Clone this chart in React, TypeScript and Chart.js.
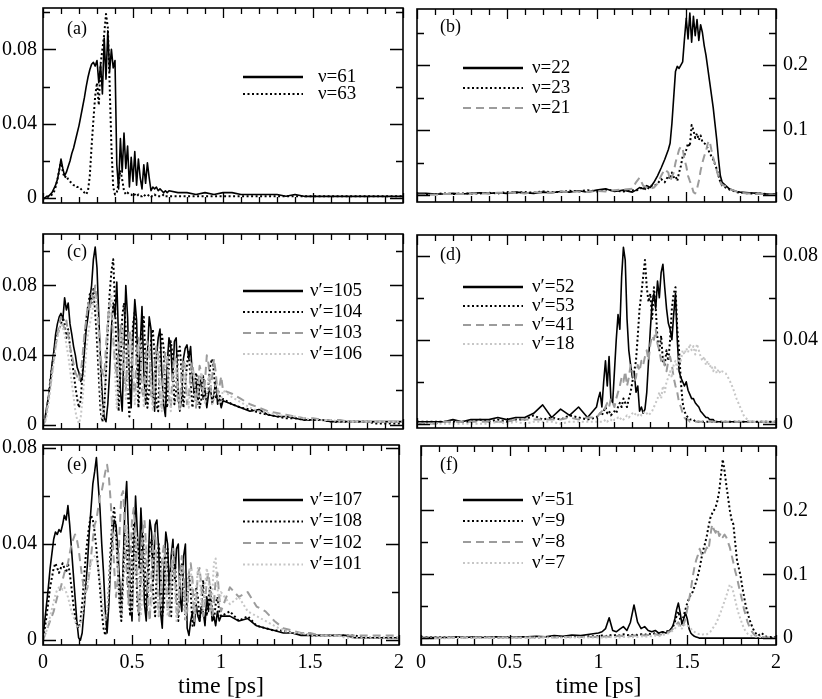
import { useEffect, useRef } from "react";
import { Chart, registerables } from "chart.js";

Chart.register(...registerables);

const SERIF = "'Liberation Serif', 'Times New Roman', serif";

// ---- axis ticks ----
const xTicks = [0, 0.5, 1, 1.5, 2];
const xMinor = [0.1, 0.2, 0.3, 0.4, 0.6, 0.7, 0.8, 0.9, 1.1, 1.2, 1.3, 1.4, 1.6, 1.7, 1.8, 1.9];
const yTicksSmall = [0, 0.04, 0.08];
const yMinorA = [0.02, 0.06, 0.1];
const yMinorD = [0.02, 0.06];
const yTicksBig = [0, 0.1, 0.2];
const yMinorBig = [0.05, 0.15, 0.25];

// ---- time grids [ps] ----
const tA = [
  0, 0.01, 0.02, 0.03, 0.04, 0.05, 0.06, 0.07, 0.08, 0.09,
  0.1, 0.11, 0.12, 0.13, 0.14, 0.15, 0.16, 0.17, 0.18, 0.19,
  0.2, 0.21, 0.22, 0.23, 0.24, 0.25, 0.26, 0.27, 0.28, 0.29,
  0.3, 0.31, 0.32, 0.33, 0.34, 0.35, 0.36, 0.37, 0.38, 0.39,
  0.4, 0.41, 0.42, 0.43, 0.44, 0.45, 0.46, 0.47, 0.48, 0.49,
  0.5, 0.51, 0.52, 0.53, 0.54, 0.55, 0.56, 0.57, 0.58, 0.59,
  0.6, 0.61, 0.62, 0.63, 0.64, 0.65, 0.66, 0.67, 0.68, 0.69,
  0.7, 0.75, 0.8, 0.85, 0.9, 0.95, 1, 1.05, 1.1, 1.15,
  1.2, 1.25, 1.3, 1.35, 1.4, 1.45, 1.5, 1.55, 1.6, 1.65,
  1.7, 1.75, 1.8, 1.85, 1.9, 1.95, 2,
];
const tB = [
  0, 0.05, 0.1, 0.15, 0.2, 0.25, 0.3, 0.35, 0.4, 0.45,
  0.5, 0.55, 0.6, 0.65, 0.7, 0.75, 0.8, 0.85, 0.9, 0.95,
  1, 1.05, 1.1, 1.15, 1.2,
  1.22, 1.24, 1.26, 1.28, 1.3, 1.32, 1.34, 1.36, 1.38, 1.4,
  1.41, 1.42, 1.43, 1.44, 1.45, 1.46, 1.47, 1.48, 1.49, 1.5,
  1.51, 1.52, 1.53, 1.54, 1.55, 1.56, 1.57, 1.58, 1.59, 1.6,
  1.61, 1.62, 1.63, 1.64, 1.65, 1.66, 1.67, 1.68, 1.69, 1.7,
  1.72, 1.74, 1.76, 1.78, 1.8, 1.85, 1.9, 1.95, 2,
];
const tCE = [
  0, 0.01, 0.02, 0.03, 0.04, 0.05, 0.06, 0.07, 0.08, 0.09,
  0.1, 0.11, 0.12, 0.13, 0.14, 0.15, 0.16, 0.17, 0.18, 0.19,
  0.2, 0.21, 0.22, 0.23, 0.24, 0.25, 0.26, 0.27, 0.28, 0.29,
  0.3, 0.31, 0.32, 0.33, 0.34, 0.35, 0.36, 0.37, 0.38, 0.39,
  0.4, 0.41, 0.42, 0.43, 0.44, 0.45, 0.46, 0.47, 0.48, 0.49,
  0.5, 0.51, 0.52, 0.53, 0.54, 0.55, 0.56, 0.57, 0.58, 0.59,
  0.6, 0.61, 0.62, 0.63, 0.64, 0.65, 0.66, 0.67, 0.68, 0.69,
  0.7, 0.71, 0.72, 0.73, 0.74, 0.75, 0.76, 0.77, 0.78, 0.79,
  0.8, 0.81, 0.82, 0.83, 0.84, 0.85, 0.86, 0.87, 0.88, 0.89,
  0.9, 0.91, 0.92, 0.93, 0.94, 0.95, 0.96, 0.97, 0.98, 0.99,
  1, 1.05, 1.1, 1.15, 1.2, 1.25, 1.3, 1.35, 1.4, 1.45,
  1.5, 1.55, 1.6, 1.65, 1.7, 1.75, 1.8, 1.85, 1.9, 1.95,
  2,
];
const tD = [
  0, 0.05, 0.1, 0.15, 0.2, 0.25, 0.3, 0.35, 0.4, 0.45,
  0.5, 0.55, 0.6, 0.65, 0.7, 0.75, 0.8, 0.85, 0.9, 0.95,
  1, 1.01, 1.02, 1.03, 1.04, 1.05, 1.06, 1.07, 1.08, 1.09,
  1.1, 1.11, 1.12, 1.13, 1.14, 1.15, 1.16, 1.17, 1.18, 1.19,
  1.2, 1.21, 1.22, 1.23, 1.24, 1.25, 1.26, 1.27, 1.28, 1.29,
  1.3, 1.31, 1.32, 1.33, 1.34, 1.35, 1.36, 1.37, 1.38, 1.39,
  1.4, 1.41, 1.42, 1.43, 1.44, 1.45, 1.46, 1.47, 1.48, 1.49,
  1.5, 1.51, 1.52, 1.53, 1.54, 1.55, 1.56, 1.57, 1.58, 1.59,
  1.6, 1.61, 1.62, 1.63, 1.64, 1.65, 1.66, 1.67, 1.68, 1.69,
  1.7, 1.72, 1.74, 1.76, 1.78, 1.8, 1.82, 1.84, 1.86, 1.88,
  1.9, 1.95, 2,
];
const tF = [
  0, 0.05, 0.1, 0.15, 0.2, 0.25, 0.3, 0.35, 0.4, 0.45,
  0.5, 0.55, 0.6, 0.65, 0.7, 0.75, 0.8, 0.85, 0.9, 0.95,
  1, 1.02, 1.04, 1.06, 1.08, 1.1, 1.12, 1.14, 1.16, 1.18,
  1.2, 1.22, 1.24, 1.26, 1.28, 1.3, 1.32, 1.34, 1.36, 1.38,
  1.4, 1.41, 1.42, 1.43, 1.44, 1.45, 1.46, 1.47, 1.48, 1.49,
  1.5, 1.51, 1.52, 1.53, 1.54, 1.55, 1.56, 1.57, 1.58, 1.59,
  1.6, 1.61, 1.62, 1.63, 1.64, 1.65, 1.66, 1.67, 1.68, 1.69,
  1.7, 1.71, 1.72, 1.73, 1.74, 1.75, 1.76, 1.77, 1.78, 1.79,
  1.8, 1.81, 1.82, 1.83, 1.84, 1.85, 1.86, 1.87, 1.88, 1.89,
  1.9, 1.91, 1.92, 1.93, 1.94, 1.95, 2,
];

// ---- populations, in units of 1e-3 ----
// (a)
const a61 = [
  0, 0, 1, 1, 2, 3, 5, 7, 10, 15,
  21, 16, 12, 14, 17, 20, 24, 27, 31, 35,
  39, 44, 49, 54, 60, 65, 69, 72, 73, 71,
  74, 62, 72, 56, 86, 64, 90, 68, 80, 70,
  74, 18, 5, 32, 14, 35, 16, 28, 6, 22,
  9, 25, 7, 21, 11, 5, 18, 8, 19, 11,
  4, 6, 5, 6, 4, 5, 4, 3, 4, 3,
  4, 3, 3, 2, 3, 2, 3, 3, 2, 2,
  2, 2, 2, 1, 2, 1, 1, 1, 1, 1,
  1, 1, 1, 1, 1, 1, 1,
];
const a63 = [
  0, 0, 0, 1, 1, 2, 3, 6, 10, 15,
  20, 14, 11, 12, 10, 9, 8, 7, 7, 6,
  6, 5, 4, 3, 2, 4, 12, 28, 42, 55,
  62, 50, 72, 80, 88, 99, 92, 62, 28, 6,
  2, 3, 8, 15, 10, 4, 2, 3, 2, 2,
  1, 2, 1, 2, 1, 1, 2, 1, 1, 2,
  1, 1, 2, 1, 1, 1, 1, 2, 1, 1,
  1, 1, 1, 1, 1, 1, 1, 1, 1, 1,
  1, 1, 1, 1, 1, 1, 1, 1, 1, 1,
  1, 1, 1, 1, 1, 1, 1,
];
// (b)
const b22 = [
  3, 3, 2, 2, 3, 2, 3, 4, 3, 4,
  3, 5, 4, 3, 5, 4, 6, 5, 7, 5,
  8, 10, 6, 8, 5,
  8, 12, 10, 15, 12, 20, 30, 42, 55, 70,
  80, 110, 150, 190, 198, 195, 200, 205, 240, 272,
  240, 280, 235, 275, 245, 270, 238, 262, 250, 230,
  215, 195, 175, 155, 135, 110, 85, 55, 30, 20,
  15, 10, 8, 6, 5, 4, 3, 2, 2,
];
const b23 = [
  2, 2, 2, 3, 2, 3, 3, 3, 4, 3,
  5, 4, 5, 4, 6, 5, 5, 7, 6, 8,
  6, 9, 7, 6, 8,
  7, 10, 12, 8, 15, 14, 18, 25, 20, 30,
  25, 35, 28, 30, 22, 35, 45, 60, 62, 70,
  80, 75, 108, 100, 88, 95, 85, 92, 82, 80,
  78, 72, 65, 60, 55, 48, 40, 30, 20, 15,
  12, 9, 7, 5, 4, 3, 3, 2, 2,
];
const b21 = [
  1, 1, 1, 2, 2, 2, 3, 3, 3, 4,
  4, 4, 3, 5, 4, 4, 6, 5, 6, 5,
  7, 6, 8, 9, 10,
  20, 27, 15, 12, 10, 12, 18, 30, 40, 35,
  22, 28, 35, 50, 60, 70, 75, 72, 55, 45,
  30, 22, 15, 5, 3, 10, 22, 38, 50, 60,
  68, 80, 84, 70, 58, 48, 38, 28, 20, 16,
  14, 10, 8, 6, 4, 3, 2, 2, 1,
];
// (c)
const c105 = [
  1, 3, 10, 16, 24, 35, 42, 52, 58, 62,
  64, 60, 73, 66, 70, 58, 52, 45, 40, 33,
  30, 25, 28, 42, 55, 62, 72, 80, 95, 102,
  90, 62, 35, 15, 4, 2, 12, 30, 55, 70,
  62, 82, 48, 20, 8, 45, 80, 62, 25, 10,
  50, 72, 60, 22, 45, 68, 30, 12, 40, 62,
  55, 18, 8, 38, 50, 55, 30, 12, 5, 35,
  50, 45, 25, 48, 50, 20, 8, 15, 38, 44,
  46, 38, 45, 28, 18, 25, 12, 22, 28, 15,
  20, 10, 18, 22, 12, 18, 25, 12, 15, 10,
  14, 12, 10, 8, 9, 6, 5, 5, 4, 3,
  3, 3, 2, 2, 2, 2, 2, 2, 2, 2,
  2,
];
const c104 = [
  0, 2, 8, 15, 25, 33, 40, 48, 52, 55,
  58, 62, 58, 50, 55, 45, 38, 30, 22, 15,
  10, 15, 30, 45, 60, 68, 75, 70, 78, 65,
  48, 28, 8, 2, 10, 30, 55, 75, 88, 95,
  70, 35, 8, 30, 62, 70, 55, 20, 5, 30,
  58, 65, 40, 10, 25, 55, 62, 35, 10, 20,
  48, 55, 40, 12, 8, 40, 52, 45, 15, 10,
  38, 48, 40, 12, 20, 42, 45, 30, 10, 22,
  35, 42, 25, 10, 18, 30, 25, 10, 15, 28,
  20, 12, 25, 35, 38, 30, 15, 20, 18, 12,
  15, 12, 10, 9, 7, 6, 5, 4, 4, 3,
  3, 3, 2, 2, 2, 2, 2, 1, 1, 1,
  1,
];
const c103 = [
  0, 2, 8, 15, 22, 30, 38, 45, 52, 58,
  62, 58, 55, 60, 52, 45, 40, 35, 30, 28,
  25, 30, 40, 52, 60, 70, 65, 75, 72, 80,
  70, 55, 40, 30, 28, 45, 60, 70, 65, 50,
  35, 28, 45, 58, 50, 30, 20, 42, 55, 48,
  25, 18, 40, 50, 45, 20, 15, 38, 48, 42,
  18, 12, 35, 45, 40, 15, 10, 32, 42, 38,
  15, 10, 30, 40, 35, 12, 10, 30, 38, 32,
  12, 15, 32, 36, 25, 10, 20, 34, 30, 18,
  25, 40, 35, 20, 28, 38, 30, 18, 22, 28,
  20, 18, 15, 12, 10, 8, 7, 6, 5, 4,
  4, 3, 3, 3, 2, 2, 2, 2, 2, 2,
  2,
];
const c106 = [
  0, 1, 5, 12, 20, 28, 36, 44, 50, 55,
  58, 56, 52, 46, 40, 32, 24, 16, 8, 3,
  1, 5, 15, 28, 42, 52, 58, 62, 70, 75,
  65, 45, 20, 4, 10, 35, 55, 68, 75, 60,
  30, 10, 25, 48, 55, 42, 15, 22, 45, 52,
  38, 12, 20, 42, 48, 32, 10, 18, 40, 45,
  28, 8, 18, 38, 42, 25, 8, 20, 36, 40,
  22, 8, 22, 35, 38, 20, 8, 22, 32, 35,
  18, 10, 25, 32, 28, 15, 12, 26, 30, 22,
  12, 18, 28, 25, 12, 15, 24, 22, 12, 15,
  20, 16, 13, 10, 8, 7, 6, 5, 5, 4,
  3, 3, 3, 2, 2, 2, 2, 2, 2, 2,
  2,
];
// (d)
const d52 = [
  1, 1, 1, 1, 2, 1, 2, 2, 2, 3,
  2, 3, 3, 5, 9, 3, 7, 4, 8, 3,
  8, 12, 15, 8, 20, 30, 18, 32, 12, 10,
  25, 40, 52, 45, 70, 84, 78, 50, 35, 28,
  22, 25, 15, 18, 6, 8, 5, 7, 15, 30,
  45, 58, 62, 55, 68, 60, 72, 76, 65, 55,
  48, 45, 40, 52, 62, 40, 25, 22, 20, 18,
  20, 16, 14, 12, 12, 10, 9, 8, 6, 5,
  4, 3, 3, 2, 2, 2, 1, 1, 1, 1,
  1, 1, 1, 1, 1, 1, 1, 1, 1, 1,
  1, 1, 1,
];
const d53 = [
  1, 1, 1, 1, 1, 1, 1, 2, 1, 2,
  1, 2, 2, 4, 2, 3, 2, 4, 3, 2,
  3, 4, 5, 4, 6, 8, 5, 6, 4, 5,
  6, 5, 8, 10, 8, 12, 10, 8, 12, 15,
  20, 25, 30, 42, 55, 62, 70, 78, 65, 58,
  62, 50, 65, 55, 40, 35, 42, 30, 28, 35,
  30, 40, 55, 62, 65, 45, 35, 20, 10, 6,
  4, 3, 2, 2, 2, 1, 1, 1, 1, 1,
  1, 1, 1, 1, 1, 1, 1, 1, 1, 1,
  1, 1, 1, 1, 1, 1, 1, 1, 1, 1,
  1, 1, 1,
];
const d41 = [
  0, 0, 0, 1, 1, 1, 1, 1, 1, 1,
  1, 2, 2, 2, 2, 2, 2, 3, 2, 3,
  3, 4, 5, 6, 5, 8, 10, 8, 12, 10,
  8, 12, 15, 18, 22, 20, 25, 18, 22, 28,
  25, 20, 22, 28, 25, 30, 28, 32, 35, 30,
  38, 42, 40, 45, 38, 35, 30, 32, 28, 25,
  30, 32, 28, 22, 18, 15, 10, 8, 5, 3,
  2, 2, 1, 1, 1, 1, 1, 1, 1, 1,
  1, 1, 1, 1, 1, 1, 1, 1, 1, 1,
  1, 1, 1, 1, 1, 1, 1, 1, 1, 1,
  1, 1, 1,
];
const d18 = [
  0, 0, 0, 0, 0, 0, 0, 0, 0, 1,
  0, 1, 0, 1, 1, 1, 0, 1, 1, 1,
  1, 1, 1, 1, 1, 2, 1, 2, 2, 1,
  2, 2, 3, 2, 3, 2, 3, 4, 3, 4,
  5, 4, 5, 4, 5, 4, 5, 6, 5, 4,
  5, 6, 8, 10, 12, 15, 12, 18, 15, 20,
  22, 25, 22, 28, 30, 26, 32, 30, 35, 33,
  36, 34, 38, 35, 37, 33, 38, 35, 32, 30,
  32, 28, 30, 27, 28, 25, 27, 24, 26, 24,
  25, 24, 21, 17, 12, 8, 4, 2, 1, 1,
  1, 1, 1,
];
// (e)
const e107 = [
  2, 8, 15, 22, 30, 36, 42, 45, 44, 46,
  45, 48, 52, 50, 56, 48, 38, 28, 18, 8,
  1, 0, 3, 12, 22, 32, 45, 55, 65, 70,
  76, 65, 55, 40, 28, 12, 3, 15, 32, 42,
  50, 48, 38, 25, 10, 30, 55, 66, 45, 20,
  8, 35, 60, 45, 30, 55, 40, 15, 8, 30,
  50, 45, 25, 48, 50, 38, 12, 5, 30, 45,
  40, 20, 35, 42, 25, 38, 40, 18, 12, 35,
  40, 5, 2, 8, 12, 6, 15, 10, 8, 14,
  12, 6, 18, 12, 20, 8, 10, 6, 12, 8,
  10, 10, 8, 9, 6, 5, 4, 3, 3, 2,
  2, 2, 2, 2, 2, 1, 1, 1, 1, 1,
  1,
];
const e108 = [
  1, 5, 10, 16, 22, 26, 30, 32, 30, 28,
  30, 32, 30, 28, 32, 28, 22, 15, 10, 6,
  5, 8, 15, 25, 35, 42, 48, 52, 50, 45,
  38, 30, 22, 12, 5, 2, 8, 22, 38, 50,
  55, 45, 30, 15, 8, 25, 45, 40, 20, 10,
  35, 48, 40, 15, 10, 32, 45, 35, 12, 20,
  40, 42, 18, 10, 30, 40, 32, 10, 15, 35,
  38, 15, 10, 30, 35, 20, 8, 25, 32, 22,
  8, 15, 28, 20, 6, 12, 22, 18, 8, 14,
  25, 15, 10, 18, 22, 12, 8, 15, 18, 12,
  10, 12, 8, 10, 6, 5, 4, 4, 3, 3,
  2, 2, 2, 2, 2, 2, 1, 1, 1, 1,
  1,
];
const e102 = [
  0, 2, 4, 6, 8, 10, 12, 15, 18, 20,
  22, 25, 28, 30, 32, 36, 40, 42, 44, 42,
  38, 32, 26, 22, 20, 22, 28, 35, 42, 48,
  50, 55, 60, 62, 66, 70, 73, 68, 58, 45,
  30, 18, 25, 45, 60, 62, 48, 28, 15, 30,
  50, 55, 42, 20, 8, 25, 45, 50, 38, 15,
  8, 28, 42, 45, 30, 10, 15, 35, 40, 32,
  12, 10, 30, 38, 30, 12, 10, 28, 35, 28,
  10, 12, 28, 32, 25, 8, 15, 28, 30, 22,
  10, 15, 25, 28, 20, 10, 15, 25, 28, 18,
  12, 22, 18, 20, 14, 12, 8, 5, 4, 3,
  3, 2, 2, 2, 2, 2, 2, 2, 2, 2,
  2,
];
const e101 = [
  0, 2, 4, 7, 10, 13, 16, 19, 21, 22,
  22, 21, 22, 20, 18, 15, 12, 10, 8, 6,
  5, 6, 10, 15, 20, 24, 28, 32, 34, 35,
  34, 30, 25, 18, 12, 8, 12, 22, 32, 40,
  45, 42, 30, 18, 10, 25, 40, 48, 38, 20,
  12, 30, 45, 42, 25, 10, 22, 38, 42, 30,
  12, 15, 32, 38, 28, 10, 18, 32, 35, 25,
  10, 15, 28, 32, 22, 8, 15, 28, 30, 20,
  8, 18, 28, 30, 18, 10, 20, 30, 28, 15,
  12, 22, 30, 25, 12, 18, 32, 34, 22, 15,
  20, 15, 18, 12, 10, 8, 6, 4, 3, 3,
  2, 2, 2, 2, 1, 1, 1, 1, 1, 1,
  1,
];
// (f)
const f51 = [
  1, 1, 1, 1, 2, 1, 2, 1, 2, 2,
  1, 2, 2, 3, 2, 4, 3, 5, 4, 6,
  8, 10, 15, 32, 12, 10, 14, 18, 12, 25,
  52, 25, 15, 18, 12, 10, 12, 8, 10, 8,
  12, 15, 20, 30, 45, 55, 40, 22, 30, 40,
  30, 15, 8, 5, 3, 2, 1, 0, 0, 0,
  0, 0, 0, 0, 0, 0, 0, 0, 0, 0,
  0, 0, 0, 0, 0, 0, 0, 0, 0, 0,
  0, 0, 0, 0, 0, 0, 0, 0, 0, 0,
  0, 0, 0, 0, 0, 0, 0,
];
const f9 = [
  1, 1, 1, 1, 1, 1, 1, 1, 1, 1,
  1, 1, 2, 1, 2, 2, 2, 3, 2, 3,
  3, 4, 3, 5, 4, 5, 4, 6, 5, 4,
  6, 5, 6, 5, 7, 6, 8, 7, 9, 10,
  12, 14, 18, 25, 35, 42, 30, 25, 35, 45,
  55, 62, 68, 72, 80, 88, 98, 110, 125, 138,
  148, 160, 175, 188, 195, 200, 205, 215, 230, 255,
  280, 262, 240, 220, 200, 185, 178, 150, 122, 110,
  98, 80, 65, 50, 40, 30, 22, 15, 10, 6,
  4, 6, 8, 5, 3, 2, 2,
];
const f8 = [
  0, 0, 0, 1, 1, 1, 1, 1, 1, 1,
  1, 1, 1, 1, 2, 1, 2, 2, 2, 2,
  2, 2, 3, 2, 3, 3, 4, 3, 4, 3,
  4, 4, 5, 4, 5, 5, 6, 5, 6, 8,
  10, 12, 15, 18, 22, 25, 20, 15, 22, 30,
  45, 60, 75, 95, 110, 122, 130, 140, 132, 128,
  135, 142, 138, 160, 178, 170, 165, 172, 160, 165,
  158, 162, 158, 150, 142, 130, 118, 105, 95, 82,
  70, 58, 45, 35, 25, 18, 12, 8, 5, 4,
  3, 2, 2, 2, 1, 1, 1,
];
const f7 = [
  0, 0, 0, 0, 1, 0, 1, 0, 1, 1,
  0, 1, 1, 1, 1, 1, 1, 1, 1, 1,
  1, 1, 1, 2, 1, 2, 1, 2, 2, 1,
  2, 2, 3, 2, 3, 3, 4, 3, 5, 6,
  8, 10, 12, 15, 18, 20, 18, 15, 20, 22,
  20, 18, 15, 12, 10, 8, 7, 6, 5, 6,
  5, 6, 8, 10, 14, 18, 22, 28, 35, 42,
  50, 58, 66, 75, 84, 80, 72, 60, 48, 38,
  30, 22, 15, 10, 7, 5, 4, 3, 3, 2,
  2, 2, 2, 1, 1, 1, 1,
];

// ---- styles ----
type Kind = "solid" | "dot" | "dash" | "light";
const lineStyles: Record<Kind, { borderColor: string; borderDash: number[]; borderWidth: number }> = {
  solid: { borderColor: "#000000", borderDash: [], borderWidth: 1.6 },
  dot: { borderColor: "#000000", borderDash: [2, 2.5], borderWidth: 2 },
  dash: { borderColor: "#9c9c9c", borderDash: [8, 5], borderWidth: 2 },
  light: { borderColor: "#c6c6c6", borderDash: [2, 2.5], borderWidth: 2 },
};

interface SeriesCfg {
  label: string;
  values: number[];
  kind: Kind;
}

interface PanelCfg {
  tag: string;
  t: number[];
  series: SeriesCfg[];
  yMin: number;
  yMax: number;
  yTicks: number[];
  yMinor: number[];
  side: "left" | "right";
  row: 0 | 1 | 2;
  tagX: number;
  tagY: number;
  lineX: number;
  textX: number;
  legendY: number;
  legendGap: number;
}

const panels: PanelCfg[] = [
  {
    tag: "(a)", t: tA, side: "left", row: 0,
    yMin: -0.00258, yMax: 0.1022, yTicks: yTicksSmall, yMinor: yMinorA,
    series: [
      { label: "ν=61", values: a61, kind: "solid" },
      { label: "ν=63", values: a63, kind: "dot" },
    ],
    tagX: 67, tagY: 29, lineX: 243, textX: 318, legendY: 77, legendGap: 17,
  },
  {
    tag: "(b)", t: tB, side: "right", row: 0,
    yMin: -0.0102, yMax: 0.2861, yTicks: yTicksBig, yMinor: yMinorBig,
    series: [
      { label: "ν=22", values: b22, kind: "solid" },
      { label: "ν=23", values: b23, kind: "dot" },
      { label: "ν=21", values: b21, kind: "dash" },
    ],
    tagX: 440, tagY: 27, lineX: 463, textX: 532, legendY: 68, legendGap: 20,
  },
  {
    tag: "(c)", t: tCE, side: "left", row: 1,
    yMin: -0.0022, yMax: 0.1095, yTicks: yTicksSmall, yMinor: yMinorA,
    series: [
      { label: "ν′=105", values: c105, kind: "solid" },
      { label: "ν′=104", values: c104, kind: "dot" },
      { label: "ν′=103", values: c103, kind: "dash" },
      { label: "ν′=106", values: c106, kind: "light" },
    ],
    tagX: 67, tagY: 252, lineX: 243, textX: 310, legendY: 291, legendGap: 21,
  },
  {
    tag: "(d)", t: tD, side: "right", row: 1,
    yMin: -0.002, yMax: 0.0899, yTicks: yTicksSmall, yMinor: yMinorD,
    series: [
      { label: "ν′=52", values: d52, kind: "solid" },
      { label: "ν′=53", values: d53, kind: "dot" },
      { label: "ν′=41", values: d41, kind: "dash" },
      { label: "ν′=18", values: d18, kind: "light" },
    ],
    tagX: 440, tagY: 255, lineX: 463, textX: 532, legendY: 287, legendGap: 19,
  },
  {
    tag: "(e)", t: tCE, side: "left", row: 2,
    yMin: -0.002, yMax: 0.0812, yTicks: yTicksSmall, yMinor: yMinorD,
    series: [
      { label: "ν′=107", values: e107, kind: "solid" },
      { label: "ν′=108", values: e108, kind: "dot" },
      { label: "ν′=102", values: e102, kind: "dash" },
      { label: "ν′=101", values: e101, kind: "light" },
    ],
    tagX: 67, tagY: 465, lineX: 243, textX: 310, legendY: 500, legendGap: 21.5,
  },
  {
    tag: "(f)", t: tF, side: "right", row: 2,
    yMin: -0.0107, yMax: 0.3008, yTicks: yTicksBig, yMinor: yMinorBig,
    series: [
      { label: "ν′=51", values: f51, kind: "solid" },
      { label: "ν′=9", values: f9, kind: "dot" },
      { label: "ν′=8", values: f8, kind: "dash" },
      { label: "ν′=7", values: f7, kind: "light" },
    ],
    tagX: 440, tagY: 465, lineX: 463, textX: 532, legendY: 500, legendGap: 21,
  },
];

// canvas boxes (page pixels)
const rowBox = [
  { top: -10, height: 231 },
  { top: 216, height: 231 },
  { top: 427, height: 272 },
];
const colBox = {
  left: { left: 0, width: 410 },
  right: { left: 410, width: 412 },
};

// frame, inward ticks, panel tag and legend
const framePlugin = {
  id: "frame",
  afterDatasetsDraw(chart: any, _args: unknown, o: any) {
    const { ctx, chartArea: a } = chart;
    const x = chart.scales.x;
    const y = chart.scales.y;
    ctx.save();
    ctx.setLineDash([]);
    ctx.strokeStyle = "#000";
    ctx.lineWidth = 1.3;
    ctx.beginPath();
    const tickX = (v: number, len: number) => {
      const px = Math.round(x.getPixelForValue(v)) + 0.5;
      ctx.moveTo(px, a.bottom);
      ctx.lineTo(px, a.bottom - len);
      ctx.moveTo(px, a.top);
      ctx.lineTo(px, a.top + len);
    };
    xTicks.forEach((v) => tickX(v, 10));
    xMinor.forEach((v) => tickX(v, 6));
    const tickY = (v: number, len: number) => {
      const py = Math.round(y.getPixelForValue(v)) + 0.5;
      ctx.moveTo(a.left, py);
      ctx.lineTo(a.left + len, py);
      ctx.moveTo(a.right, py);
      ctx.lineTo(a.right - len, py);
    };
    o.yTicks.forEach((v: number) => tickY(v, 13));
    o.yMinor.forEach((v: number) => tickY(v, 7));
    ctx.stroke();
    ctx.lineWidth = 1.6;
    ctx.strokeRect(a.left, a.top, a.right - a.left, a.bottom - a.top);

    ctx.fillStyle = "#000";
    ctx.textBaseline = "middle";
    ctx.textAlign = "left";
    ctx.font = `18px ${SERIF}`;
    ctx.fillText(o.tag, o.tagX - o.ox, o.tagY - o.oy);

    ctx.font = `19px ${SERIF}`;
    chart.data.datasets.forEach((ds: any, i: number) => {
      const ly = o.legendY - o.oy + i * o.legendGap;
      ctx.save();
      ctx.strokeStyle = ds.borderColor;
      ctx.lineWidth = ds.borderDash.length ? 2 : 2.5;
      ctx.setLineDash(ds.borderDash);
      ctx.beginPath();
      ctx.moveTo(o.lineX - o.ox, ly);
      ctx.lineTo(o.lineX - o.ox + 60, ly);
      ctx.stroke();
      ctx.restore();
      ctx.fillText(ds.label, o.textX - o.ox, ly);
    });
    ctx.restore();
  },
};

function Panel({ cfg }: { cfg: PanelCfg }) {
  const canvasRef = useRef<HTMLCanvasElement>(null);
  const box = { ...colBox[cfg.side], ...rowBox[cfg.row] };
  const bottomRow = cfg.row === 2;

  useEffect(() => {
    if (!canvasRef.current) return;
    const n = cfg.series.length;
    const chart = new Chart(canvasRef.current, {
      type: "line",
      data: {
        datasets: cfg.series.map((s, i) => ({
          label: s.label,
          data: cfg.t.map((t, k) => ({ x: t, y: s.values[k] / 1000 })),
          ...lineStyles[s.kind],
          borderJoinStyle: "round",
          pointRadius: 0,
          tension: 0,
          fill: false,
          order: n - i,
        })),
      },
      options: {
        responsive: false,
        animation: false,
        events: [],
        layout: {
          padding: {
            left: cfg.side === "right" ? 7 : 0,
            right: cfg.side === "left" ? 7 : 0,
            top: 14,
            bottom: bottomRow ? 0 : 14,
          },
        },
        plugins: {
          legend: { display: false },
          tooltip: { enabled: false },
          frame: {
            ...cfg,
            ox: box.left,
            oy: box.top,
          },
        } as any,
        scales: {
          x: {
            type: "linear",
            min: 0,
            max: 2,
            display: bottomRow,
            grid: { display: false, drawTicks: false },
            border: { display: false },
            afterBuildTicks: (s: any) => {
              s.ticks = xTicks.map((v) => ({ value: v }));
            },
            afterFit: (s: any) => {
              s.height = bottomRow ? 54 : 0;
            },
            ticks: {
              autoSkip: false,
              maxRotation: 0,
              padding: 6,
              color: "#000",
              font: { family: SERIF, size: 20 },
              callback: (v: any) => String(v),
            },
            title: {
              display: true,
              text: "time [ps]",
              color: "#000",
              font: { family: SERIF, size: 24, lineHeight: 1 },
              padding: { top: 0, bottom: 0 },
            },
          },
          y: {
            type: "linear",
            position: cfg.side,
            min: cfg.yMin,
            max: cfg.yMax,
            grid: { display: false, drawTicks: false },
            border: { display: false },
            afterBuildTicks: (s: any) => {
              s.ticks = cfg.yTicks.map((v) => ({ value: v }));
            },
            afterFit: (s: any) => {
              s.width = cfg.side === "left" ? 43 : 46;
            },
            ticks: {
              autoSkip: false,
              padding: cfg.side === "left" ? 6 : 7,
              color: "#000",
              font: { family: SERIF, size: 20 },
              callback: (v: any) => String(v),
            },
          },
        },
      },
      plugins: [framePlugin as any],
    });
    return () => chart.destroy();
  }, [cfg]);

  return (
    <canvas
      ref={canvasRef}
      width={box.width}
      height={box.height}
      style={{ position: "absolute", left: box.left, top: box.top, width: box.width, height: box.height }}
    />
  );
}

export default function App() {
  return (
    <div
      style={{
        position: "fixed",
        left: 0,
        top: 0,
        width: 822,
        height: 699,
        overflow: "hidden",
        background: "#fff",
      }}
    >
      {panels.map((p) => (
        <Panel key={p.tag} cfg={p} />
      ))}
    </div>
  );
}
